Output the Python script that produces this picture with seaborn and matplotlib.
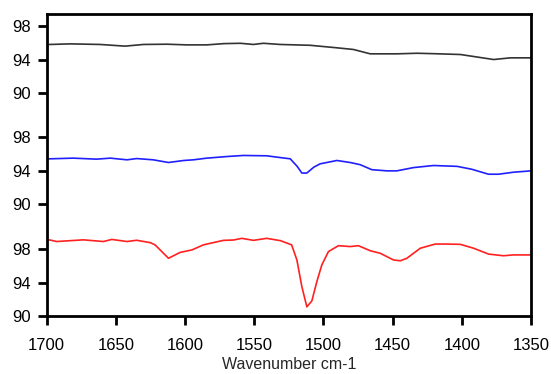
import numpy as np
import pandas as pd
import matplotlib
matplotlib.use("Agg")
import matplotlib.pyplot as plt
import seaborn as sns

# ---- data ----
red_wn = [1700, 1697.6, 1692.8, 1673.5, 1659, 1653, 1642, 1635, 1625, 1621.7, 1612, 1603.6, 1595,
          1586.8, 1572.3, 1565, 1559, 1550.6, 1541, 1531, 1523, 1519.2, 1515.6, 1512, 1508.4,
          1504.8, 1501.2, 1496.4, 1489.2, 1480.7, 1474.7, 1466.2, 1459, 1449.4, 1444.5, 1439.7,
          1430, 1419.2, 1410.8, 1401, 1391.5, 1380.7, 1369.9, 1362.6, 1350]
red_val = [99.1, 99.08, 98.9, 99.1, 98.9, 99.15, 98.9, 99.05, 98.76, 98.5, 96.9, 97.6, 97.9,
           98.5, 99.04, 99.08, 99.28, 99.04, 99.28, 99.0, 98.5, 96.7, 93.5, 91.1, 91.8,
           94.1, 96.1, 97.7, 98.4, 98.3, 98.4, 97.8, 97.5, 96.7, 96.6, 96.9,
           98.1, 98.6, 98.6, 98.56, 98.1, 97.4, 97.2, 97.3, 97.3]

blue_wn = [1700, 1697.6, 1680.8, 1664, 1654, 1642, 1635, 1623, 1612, 1601, 1594, 1584.3, 1570,
           1558, 1541, 1531.3, 1524, 1519, 1515.6, 1512, 1507, 1502.4, 1490.3, 1480.7, 1473.5,
           1465, 1454, 1447, 1435, 1420.5, 1403.5, 1393, 1380.7, 1373.5, 1362.6, 1350]
blue_val = [95.4, 95.4, 95.48, 95.36, 95.48, 95.28, 95.43, 95.28, 94.96, 95.2, 95.28, 95.48, 95.67,
            95.8, 95.76, 95.55, 95.4, 94.5, 93.7, 93.7, 94.4, 94.8, 95.2, 94.96, 94.7,
            94.1, 93.96, 93.96, 94.35, 94.6, 94.5, 94.16, 93.56, 93.56, 93.8, 93.96]

black_wn = [1700, 1697.6, 1683, 1661.5, 1643.4, 1630, 1613, 1598.8, 1584.3, 1572, 1560, 1550.6,
            1543.4, 1531.3, 1509.6, 1490.3, 1478.3, 1466.2, 1447, 1432.4, 1420.5, 1401, 1389,
            1377, 1365, 1350]
black_val = [95.8, 95.8, 95.87, 95.8, 95.6, 95.8, 95.83, 95.75, 95.75, 95.9, 95.94, 95.8,
             95.94, 95.8, 95.7, 95.4, 95.2, 94.68, 94.68, 94.75, 94.7, 94.6, 94.3,
             94.0, 94.2, 94.2]

ytick_values = [90, 94, 98]
xticks = [1700, 1650, 1600, 1550, 1500, 1450, 1400, 1350]

# ---- layout constants (vertical stacking offsets) ----
offsets = {"red": 0.0, "blue": 13.38, "black": 26.64}
colors = {"red": "#ff2020", "blue": "#2020ff", "black": "#333333"}

frames = []
for name, wn, val in [("black", black_wn, black_val), ("blue", blue_wn, blue_val), ("red", red_wn, red_val)]:
    frames.append(pd.DataFrame({"wn": wn, "y": np.array(val) + offsets[name], "trace": name}))
df = pd.concat(frames, ignore_index=True)

sns.set_style("ticks")
plt.rcParams["font.family"] = ["Liberation Sans", "DejaVu Sans"]

fig = plt.figure(figsize=(5.51, 3.74), dpi=100)
ax = fig.add_axes([0.0848, 0.155, 0.8789, 0.8076])

sns.lineplot(data=df, x="wn", y="y", hue="trace", palette=colors, sort=False,
             estimator=None, linewidth=1.2, legend=False, ax=ax)

ax.set_xlim(1700, 1350)
ax.set_ylim(90, 126.08)
ax.set_xticks(xticks)
ax.set_xticklabels([str(t) for t in xticks])

ypos, ylab = [], []
for name in ["red", "blue", "black"]:
    for v in ytick_values:
        ypos.append(v + offsets[name])
        ylab.append(str(v))
ax.set_yticks(ypos)
ax.set_yticklabels(ylab)

for s in ax.spines.values():
    s.set_visible(True)
    s.set_linewidth(2.0)
    s.set_color("black")
ax.tick_params(direction="out", length=6.5, width=2.0, labelsize=12, colors="black")
ax.tick_params(axis="x", pad=9)
ax.tick_params(axis="y", pad=5)
ax.set_xlabel("Wavenumber cm-1", fontsize=11.5, labelpad=3)
ax.set_ylabel("")

fig.savefig("out.png", dpi=100)
